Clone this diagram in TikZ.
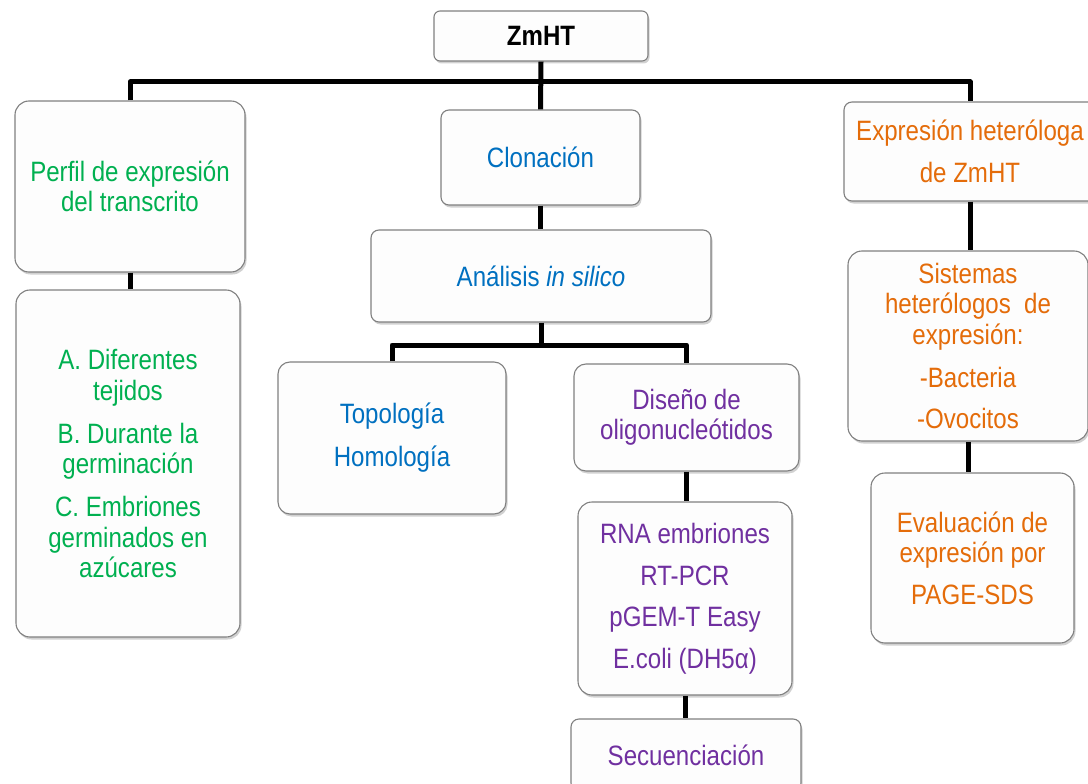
\documentclass[tikz,border=0pt]{standalone}
\usepackage{fontspec}
\setmainfont[FakeStretch=0.86]{Liberation Sans}
\usetikzlibrary{shadows}
\definecolor{cgreen}{HTML}{00B050}
\definecolor{cblue}{HTML}{0070C0}
\definecolor{cpurple}{HTML}{7030A0}
\definecolor{corange}{HTML}{E46C0A}
\definecolor{cfill}{HTML}{FDFDFD}
\tikzset{
  box/.style={draw=black!50, line width=1.1pt, fill=cfill, rounded corners=14pt,
    inner sep=0pt, align=center, font=\fontsize{28}{30.5}\selectfont,
    drop shadow={shadow xshift=1.5pt, shadow yshift=-2.5pt, opacity=0.3, fill=black!60}},
  sbox/.style={box, rounded corners=8pt},
  conn/.style={line width=5pt, black, line join=round, line cap=butt},
}
\begin{document}
\begin{tikzpicture}[x=1pt,y=-1pt]
\useasboundingbox (0,0) rectangle (1088,784);
% boxes
\node[sbox, rounded corners=6pt, minimum width=214pt, minimum height=50pt, font=\fontsize{28}{30.5}\selectfont\bfseries] (zmht) at (541,36) {ZmHT};
\node[box, text=cgreen, minimum width=230pt, minimum height=171pt] (perfil) at (130,186.5) {Perfil de expresión\\del transcrito};
\node[box, text=cgreen, minimum width=224pt, minimum height=347pt] (abox) at (128,463.5)
  {A. Diferentes\\tejidos\\[12.5pt]B. Durante la\\germinación\\[12.5pt]C. Embriones\\germinados en\\azúcares};
\node[sbox, text=cblue, minimum width=199pt, minimum height=95pt] (clon) at (540.5,157.5) {Clonación};
\node[sbox, text=cblue, minimum width=340pt, minimum height=92pt] (anal) at (541,276) {Análisis \textit{in silico}};
\node[box, rounded corners=12pt, text=cblue, minimum width=228pt, minimum height=152pt] (topo) at (392,438) {Topología\\[12.5pt]Homología};
\node[box, rounded corners=12pt, text=cpurple, minimum width=225pt, minimum height=107pt] (dis) at (686.5,417.5) {Diseño de\\oligonucleótidos};
\node[box, text=cpurple, minimum width=214pt, minimum height=193pt] (rna) at (685,598.5)
  {RNA embriones\\[11pt]RT-PCR\\[11pt]pGEM-T Easy\\[11pt]E.coli (DH5α)};
\node[sbox, text=cpurple, minimum width=230pt, minimum height=72pt] (sec) at (686,755) {Secuenciación};
\node[sbox, text=corange, minimum width=252pt, minimum height=99pt] (expr) at (970,151.5) {Expresión heteróloga\\[11pt]de ZmHT};
\node[box, text=corange, minimum width=240pt, minimum height=190pt] (sist) at (968,346)
  {Sistemas\\heterólogos\ \ de\\expresión:\\[12.5pt]-Bacteria\\[11pt]-Ovocitos};
\node[box, text=corange, minimum width=203pt, minimum height=170pt] (eval) at (972.5,558)
  {Evaluación de\\expresión por\\[11pt]PAGE-SDS};
% connectors
\coordinate (bus) at (541,82);
\coordinate (bus2) at (541,345);
\draw[conn] (perfil.north) |- (bus) -| (expr.north);
\draw[conn] (zmht.south) -- (clon.north);
\draw[conn] (clon.south) -- (clon.south |- anal.north);
\draw[conn] (perfil.south) -- (perfil.south |- abox.north);
\draw[conn] (anal.south) -- (bus2);
\draw[conn] (topo.north) |- (bus2) -| (dis.north);
\draw[conn] (dis.south) -- (dis.south |- rna.north);
\draw[conn] (rna.south) -- (rna.south |- sec.north);
\draw[conn] (expr.south) -- (expr.south |- sist.north);
\draw[conn] (sist.south) -- (sist.south |- eval.north);
\end{tikzpicture}
\end{document}
